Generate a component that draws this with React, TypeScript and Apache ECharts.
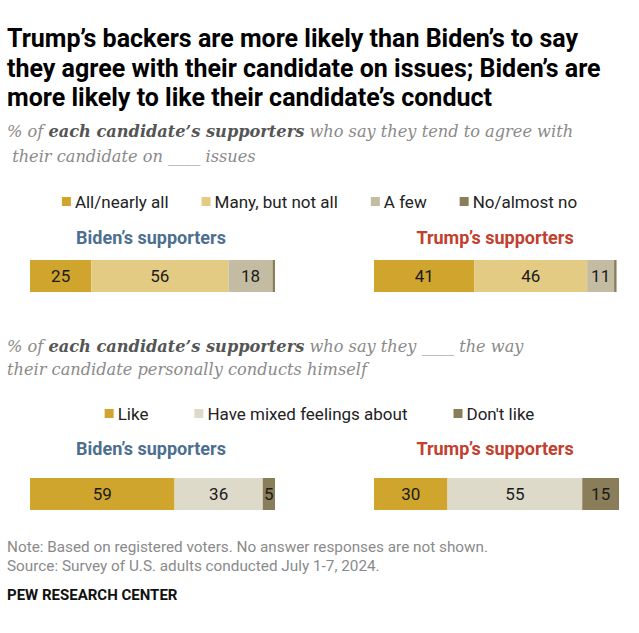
import React, { useEffect, useRef } from "react";
import * as echarts from "echarts";

const groups = ["Biden\u2019s supporters", "Trump\u2019s supporters"];
const groupColors = ["#4D6F8F", "#C2402E"];

const agreeCategories = ["All/nearly all", "Many, but not all", "A few", "No/almost no"];
const agreeColors = ["#CFA52E", "#E4CB84", "#C4BCA2", "#8A7D5A"];
const agreeBiden = [25, 56, 18, 1];
const agreeTrump = [41, 46, 11, 1];

const conductCategories = ["Like", "Have mixed feelings about", "Don't like"];
const conductColors = ["#CFA52E", "#DEDACA", "#8A7D5A"];
const conductBiden = [59, 36, 5];
const conductTrump = [30, 55, 15];

const SANS = "Roboto, 'Liberation Sans', sans-serif";
const SERIF = "'DejaVu Serif', 'Liberation Serif', serif";

export default function App() {
  const ref = useRef<HTMLDivElement>(null);

  useEffect(() => {
    if (!ref.current) return;
    const chart = echarts.init(ref.current, undefined, { renderer: "svg" });

    const panels = [
      { cats: agreeCategories, colors: agreeColors, values: agreeBiden, left: 30, top: 260 },
      { cats: agreeCategories, colors: agreeColors, values: agreeTrump, left: 374, top: 260 },
      { cats: conductCategories, colors: conductColors, values: conductBiden, left: 30, top: 478 },
      { cats: conductCategories, colors: conductColors, values: conductTrump, left: 374, top: 478 },
    ];

    const grid = panels.map((p) => ({ left: p.left, top: p.top, width: 245, height: 32 }));
    const xAxis = panels.map((_, i) => ({
      type: "value" as const,
      gridIndex: i,
      min: 0,
      max: 100,
      show: false,
    }));
    const yAxis = panels.map((_, i) => ({
      type: "category" as const,
      gridIndex: i,
      data: [groups[i % 2]],
      show: false,
    }));
    const series: any[] = [];
    panels.forEach((p, k) => {
      p.cats.forEach((c, i) => {
        series.push({
          type: "bar",
          name: c,
          stack: "s" + k,
          xAxisIndex: k,
          yAxisIndex: k,
          barWidth: "100%",
          data: [p.values[i]],
          itemStyle: { color: p.colors[i] },
          label: {
            show: true,
            position: "inside",
            color: "#1a1a1a",
            fontSize: 17,
            fontFamily: SANS,
            formatter: (d: any) => (d.value >= 3 ? String(d.value) : ""),
          },
          emphasis: { disabled: true },
        });
      });
    });

    const legendCommon = {
      left: "center",
      icon: "rect",
      itemWidth: 9,
      itemHeight: 9,
      itemGap: 33,
      selectedMode: false,
      textStyle: { fontSize: 17, color: "#222", fontFamily: SANS, padding: [0, 0, 0, -1] },
    };

    const text = (x: number, y: number, t: string, style: any) => ({
      type: "text",
      x,
      y,
      style: { text: t, verticalAlign: "middle", ...style },
    });

    const subRich = {
      a: { fontFamily: SERIF, fontStyle: "italic", fontSize: 16.2, fill: "#8a8a8a" },
      b: { fontFamily: SERIF, fontStyle: "italic", fontWeight: "bold", fontSize: 16.2, fill: "#555555" },
    };

    const titleStyle = { fontFamily: SANS, fontWeight: "bold", fontSize: 25, fill: "#000" };
    const headStyle = { fontFamily: SANS, fontWeight: "bold", fontSize: 18, align: "center" };
    const noteStyle = { fontFamily: SANS, fontSize: 15.3, fill: "#8a8a8a" };

    const graphic: any[] = [
      text(7, 38, "Trump\u2019s backers are more likely than Biden\u2019s to say", titleStyle),
      text(7, 68, "they agree with their candidate on issues; Biden\u2019s are", titleStyle),
      text(7, 97, "more likely to like their candidate\u2019s conduct", titleStyle),
      text(7, 131, "{a|% of }{b|each candidate\u2019s supporters}{a| who say they tend to agree with}", { rich: subRich }),
      text(7, 156, "{a| their candidate on ____ issues}", { rich: subRich }),
      text(7, 346, "{a|% of }{b|each candidate\u2019s supporters}{a| who say they ____ the way}", { rich: subRich }),
      text(7, 369, "{a|their candidate personally conducts himself}", { rich: subRich }),
      text(151, 237, groups[0], { ...headStyle, fill: groupColors[0] }),
      text(495, 237, groups[1], { ...headStyle, fill: groupColors[1] }),
      text(151, 448, groups[0], { ...headStyle, fill: groupColors[0] }),
      text(495, 448, groups[1], { ...headStyle, fill: groupColors[1] }),
      text(7, 547, "Note: Based on registered voters. No answer responses are not shown.", noteStyle),
      text(7, 566, "Source: Survey of U.S. adults conducted July 1-7, 2024.", noteStyle),
      text(7, 595, "PEW RESEARCH CENTER", {
        fontFamily: SANS, fontWeight: "bold", fontSize: 15, fill: "#111",
      }),
    ];

    chart.setOption({
      animation: false,
      backgroundColor: "#ffffff",
      grid,
      xAxis,
      yAxis,
      legend: [
        { ...legendCommon, top: 188, data: agreeCategories },
        { ...legendCommon, top: 400, itemGap: 46, data: conductCategories },
      ],
      series,
      graphic,
    });

    return () => chart.dispose();
  }, []);

  return (
    <div
      ref={ref}
      style={{ position: "absolute", left: 0, top: 0, width: 639, height: 633, background: "#fff" }}
    />
  );
}
